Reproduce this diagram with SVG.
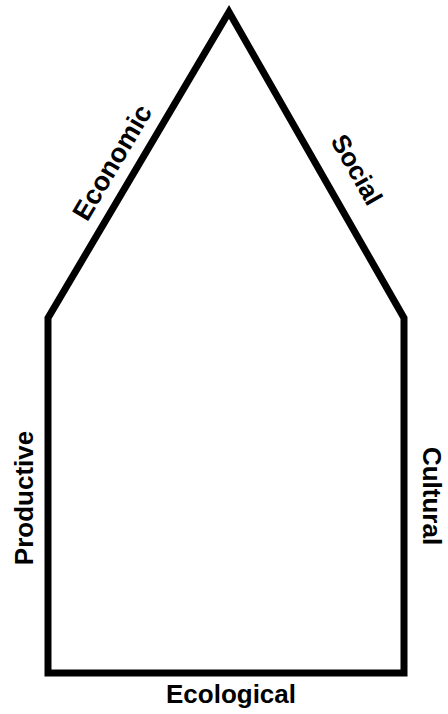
<svg xmlns="http://www.w3.org/2000/svg" width="448" height="714" viewBox="0 0 448 714">
<style>
.lbl{font-family:"Liberation Sans",Arial,sans-serif;font-weight:bold;font-size:26px;fill:#000;text-anchor:middle}
.edge{fill:none;stroke:#000;stroke-width:7;stroke-linejoin:miter;stroke-miterlimit:10}
</style>
<rect width="448" height="714" fill="#fff"/>
<g id="connectors">
<polygon class="edge" points="229,12 404,318 404,673 48,673 48,318"/>
</g>
<g id="economic"><text class="lbl" transform="translate(120,167) rotate(-59.4)" style="font-size:27px">Economic</text></g>
<g id="social"><text class="lbl" transform="translate(349,174) rotate(60.4)">Social</text></g>
<g id="productive"><text class="lbl" transform="translate(33,498) rotate(-90)">Productive</text></g>
<g id="cultural"><text class="lbl" transform="translate(423,496) rotate(90)">Cultural</text></g>
<g id="ecological"><text class="lbl" x="231" y="703">Ecological</text></g>
</svg>
